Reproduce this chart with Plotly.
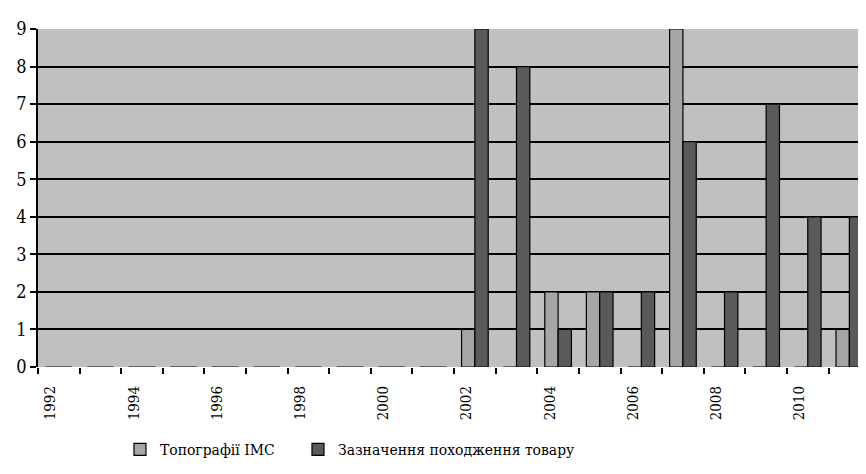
import plotly.graph_objects as go

years = list(range(1992, 2012))
topografii = [0, 0, 0, 0, 0, 0, 0, 0, 0, 0, 1, 0, 2, 2, 0, 9, 0, 0, 0, 1]
zaznachennia = [0, 0, 0, 0, 0, 0, 0, 0, 0, 0, 9, 8, 1, 2, 2, 6, 2, 7, 4, 4]
tick_years = list(range(1992, 2012, 2))
series_names = ["Топографії ІМС", "Зазначення походження товару"]

FONT = "DejaVu Serif Condensed, DejaVu Serif"

fig = go.Figure()
fig.add_trace(go.Bar(x=years, y=topografii, name=series_names[0], legend="legend",
                     marker=dict(color="#A6A6A6", line=dict(color="black", width=1.2))))
fig.add_trace(go.Bar(x=years, y=zaznachennia, name=series_names[1], legend="legend2",
                     marker=dict(color="#5A5A5A", line=dict(color="black", width=1.2))))

leg_common = dict(orientation="h", xanchor="left", y=-0.245, yanchor="middle",
                  font=dict(family=FONT, size=15.5), itemwidth=30,
                  bgcolor="rgba(0,0,0,0)")
fig.update_layout(
    width=858, height=458,
    margin=dict(l=30, r=0, t=21, b=99, autoexpand=False),
    paper_bgcolor="white",
    plot_bgcolor="#C0C0C0",
    barmode="group",
    bargap=0.36,
    bargroupgap=0.0,
    font=dict(family=FONT, size=16, color="black"),
    legend=dict(x=0.099, **leg_common),
    legend2=dict(x=0.314, **leg_common),
    showlegend=True,
)
fig.update_xaxes(
    range=[1991.5, 2011.4],
    tickmode="array", tickvals=[y - 0.2 for y in tick_years],
    ticktext=[str(y) for y in tick_years],
    tickangle=-90, ticks="outside", ticklen=12, tickcolor="rgba(0,0,0,0)",
    showgrid=False, zeroline=False, automargin=False,
    showline=False,
    tickfont=dict(family=FONT, size=15),
    minor=dict(ticks="outside", tick0=1991.5, dtick=1, ticklen=6, tickcolor="black",
               tickwidth=1.5, showgrid=False),
)
fig.update_yaxes(
    range=[0, 9], dtick=1, automargin=False,
    ticks="outside", ticklen=6, tickcolor="black", tickwidth=1.5,
    showgrid=True, gridcolor="black", gridwidth=1.5,
    zeroline=False,
    showline=True, linecolor="black", linewidth=1.5,
    tickfont=dict(family=FONT, size=18),
)
fig.write_html("out.html")
